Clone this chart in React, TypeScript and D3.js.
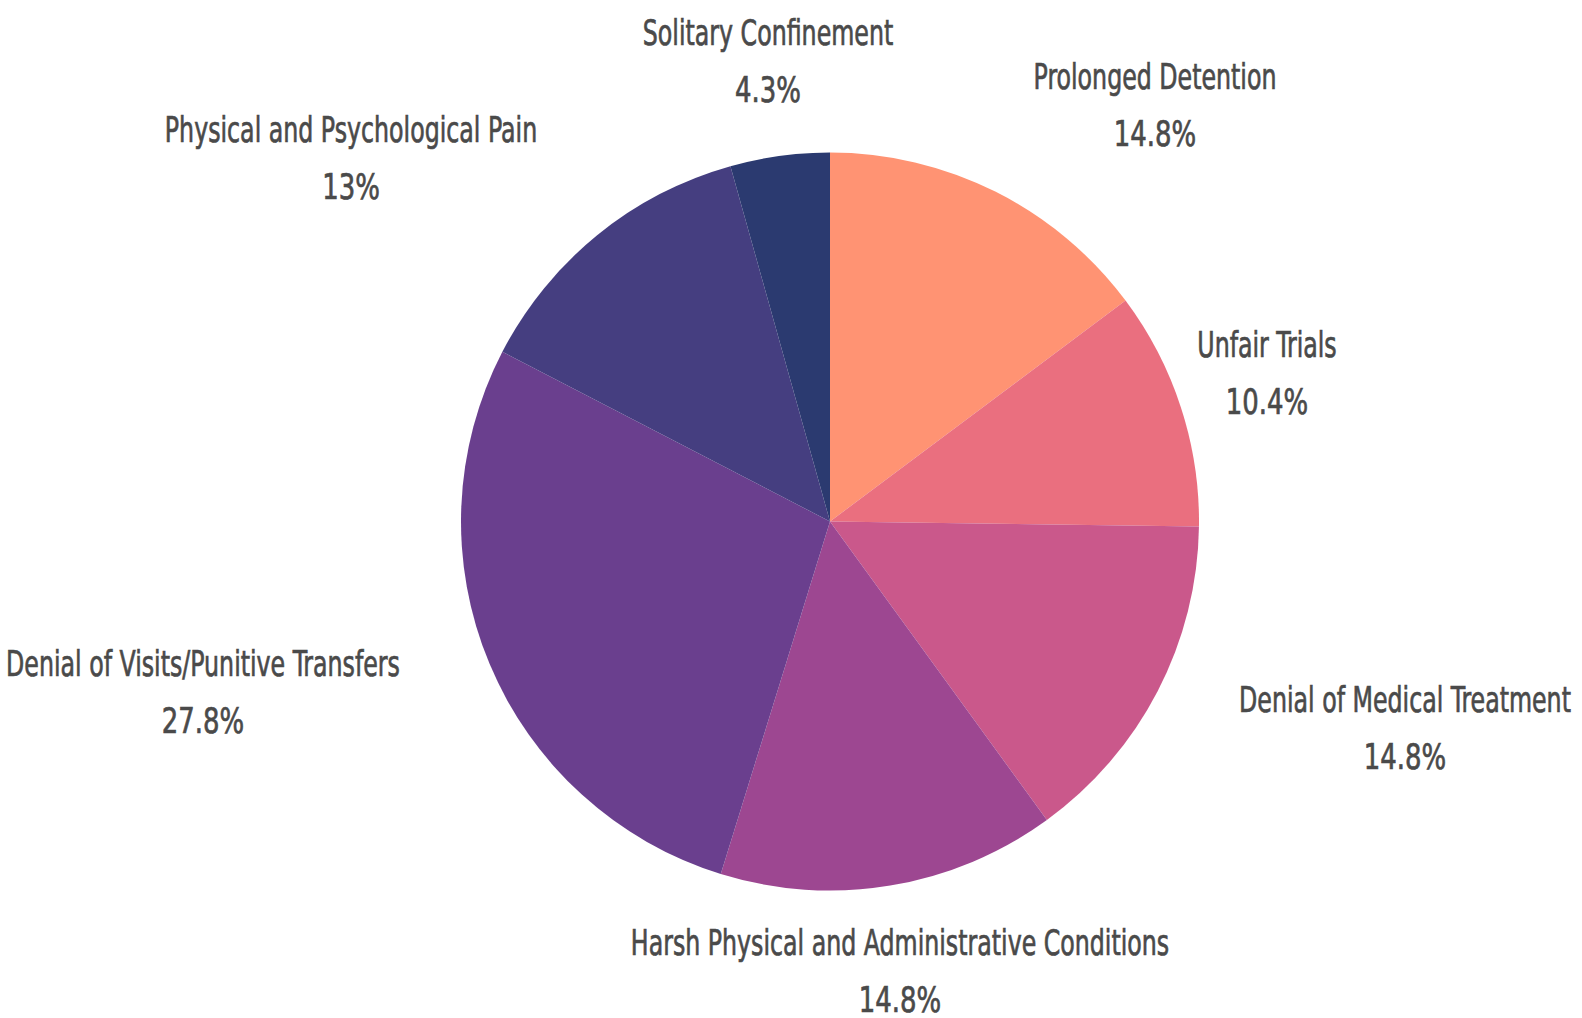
import React from "react";
import * as d3 from "d3";

const categories = [
  "Prolonged Detention",
  "Unfair Trials",
  "Denial of Medical Treatment",
  "Harsh Physical and Administrative Conditions",
  "Denial of Visits/Punitive Transfers",
  "Physical and Psychological Pain",
  "Solitary Confinement",
];
const counts = [17, 12, 17, 17, 32, 15, 5];
const percentLabels = ["14.8%", "10.4%", "14.8%", "14.8%", "27.8%", "13%", "4.3%"];
const colors = ["#FF9373", "#EA6F7F", "#CA588B", "#9D4791", "#6A3F8E", "#453E80", "#2B3A70"];

// label layout (center x, name baseline y)
const labelLayout: [number, number][] = [
  [1155, 89],
  [1267, 357],
  [1405, 712],
  [900, 955],
  [203, 676],
  [351, 142],
  [768, 45],
];

const W = 1582;
const H = 1018;
const CX = 830;
const CY = 521.5;
const R = 369;

export default function App() {
  const pie = d3
    .pie<number>()
    .sort(null)
    .value((d) => d)
    .startAngle(0)
    .endAngle(2 * Math.PI);
  const arcs = pie(counts);
  const arc = d3.arc<d3.PieArcDatum<number>>().innerRadius(0).outerRadius(R);
  const font = "'DejaVu Sans Condensed', 'Liberation Sans Narrow', sans-serif";
  return (
    <svg
      width={W}
      height={H}
      style={{ position: "absolute", left: 0, top: 0, background: "#fff" }}
    >
      <g transform={`translate(${CX},${CY})`}>
        {arcs.map((a, i) => (
          <path key={i} d={arc(a) || ""} fill={colors[i]} />
        ))}
      </g>
      {categories.map((c, i) => {
        const [x, y] = labelLayout[i];
        return (
          <g
            key={c}
            fill="#4a4a4a"
            stroke="#4a4a4a"
            strokeWidth={0.6}
            fontFamily={font}
            fontSize={31}
          >
            <text
              transform={`translate(${x},${y}) scale(0.85,1.17)`}
              textAnchor="middle"
            >
              {c}
            </text>
            <text
              transform={`translate(${x},${y + 57}) scale(0.93,1.17)`}
              textAnchor="middle"
            >
              {percentLabels[i]}
            </text>
          </g>
        );
      })}
    </svg>
  );
}
